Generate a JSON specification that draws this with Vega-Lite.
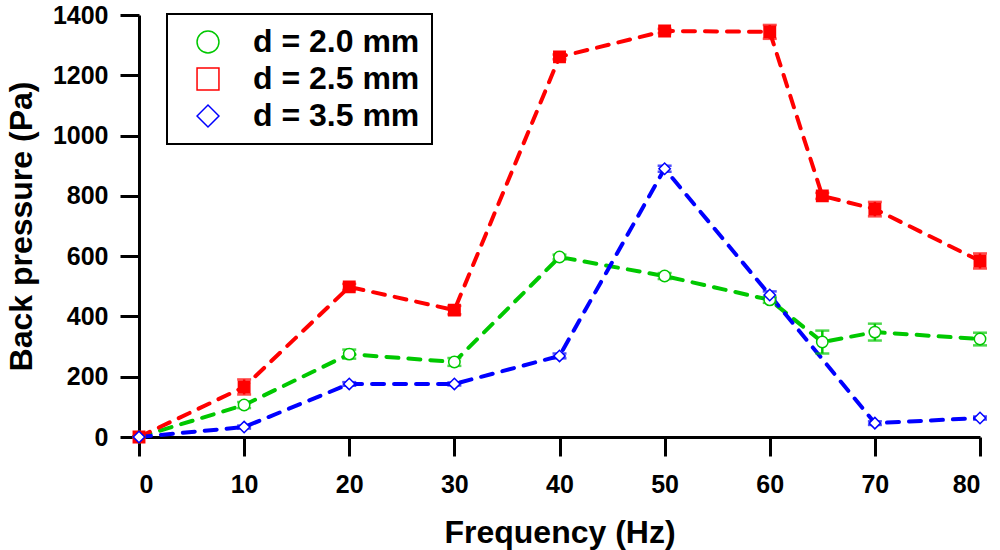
{
  "$schema": "https://vega.github.io/schema/vega-lite/v6.json",
  "width": 841,
  "height": 422,
  "autosize": {"type": "none"},
  "padding": {"left": 139, "top": 15, "right": 20, "bottom": 113},
  "config": {
    "background": "white",
    "view": {"stroke": null},
    "font": "Liberation Sans",
    "axis": {
      "grid": false,
      "domainColor": "black",
      "domainWidth": 3,
      "tickColor": "black",
      "tickWidth": 3,
      "tickSize": 19,
      "labelFontSize": 25,
      "labelFontWeight": "bold",
      "labelColor": "black",
      "titleFontSize": 32,
      "titleFontWeight": "bold",
      "titleColor": "black"
    },
    "legend": {
      "orient": "none",
      "legendX": 28,
      "legendY": -1,
      "strokeColor": "black",
      "strokeWidth": 2,
      "fillColor": "white",
      "padding": 12,
      "symbolSize": 480,
      "symbolStrokeWidth": 1.5,
      "symbolOffset": 13,
      "labelOffset": 29,
      "labelFontSize": 32,
      "labelFontWeight": "bold",
      "labelColor": "black",
      "labelLimit": 400,
      "rowPadding": 5
    }
  },
  "data": {
    "values": [
      {"f": 0, "d": "d = 2.0 mm", "p": 0, "e": 0},
      {"f": 10, "d": "d = 2.0 mm", "p": 106, "e": 10},
      {"f": 20, "d": "d = 2.0 mm", "p": 275, "e": 15},
      {"f": 30, "d": "d = 2.0 mm", "p": 249, "e": 13},
      {"f": 40, "d": "d = 2.0 mm", "p": 597, "e": 8},
      {"f": 50, "d": "d = 2.0 mm", "p": 534, "e": 10},
      {"f": 60, "d": "d = 2.0 mm", "p": 455, "e": 10},
      {"f": 65, "d": "d = 2.0 mm", "p": 315, "e": 38},
      {"f": 70, "d": "d = 2.0 mm", "p": 348, "e": 28},
      {"f": 80, "d": "d = 2.0 mm", "p": 325, "e": 21},
      {"f": 0, "d": "d = 2.5 mm", "p": 0, "e": 0},
      {"f": 10, "d": "d = 2.5 mm", "p": 166, "e": 25},
      {"f": 20, "d": "d = 2.5 mm", "p": 498, "e": 10},
      {"f": 30, "d": "d = 2.5 mm", "p": 421, "e": 14},
      {"f": 40, "d": "d = 2.5 mm", "p": 1261, "e": 8},
      {"f": 50, "d": "d = 2.5 mm", "p": 1347, "e": 7},
      {"f": 60, "d": "d = 2.5 mm", "p": 1344, "e": 23},
      {"f": 65, "d": "d = 2.5 mm", "p": 800, "e": 10},
      {"f": 70, "d": "d = 2.5 mm", "p": 756, "e": 24},
      {"f": 80, "d": "d = 2.5 mm", "p": 584, "e": 25},
      {"f": 0, "d": "d = 3.5 mm", "p": 0, "e": 0},
      {"f": 10, "d": "d = 3.5 mm", "p": 33, "e": 5},
      {"f": 20, "d": "d = 3.5 mm", "p": 176, "e": 6},
      {"f": 30, "d": "d = 3.5 mm", "p": 176, "e": 5},
      {"f": 40, "d": "d = 3.5 mm", "p": 269, "e": 8},
      {"f": 50, "d": "d = 3.5 mm", "p": 890, "e": 10},
      {"f": 60, "d": "d = 3.5 mm", "p": 471, "e": 12},
      {"f": 70, "d": "d = 3.5 mm", "p": 46, "e": 6},
      {"f": 80, "d": "d = 3.5 mm", "p": 63, "e": 5}
    ]
  },
  "encoding": {
    "x": {
      "field": "f",
      "type": "quantitative",
      "scale": {"domain": [0, 80], "nice": false},
      "axis": {"values": [0, 10, 20, 30, 40, 50, 60, 70, 80], "labelPadding": 16, "titlePadding": 20},
      "title": "Frequency (Hz)"
    },
    "y": {
      "field": "p",
      "type": "quantitative",
      "scale": {"domain": [0, 1400], "nice": false},
      "axis": {"values": [0, 200, 400, 600, 800, 1000, 1200, 1400], "format": "d", "labelPadding": 12, "titlePadding": 14},
      "title": "Back pressure (Pa)"
    }
  },
  "layer": [
    {
      "mark": {"type": "point", "size": 0, "opacity": 0},
      "encoding": {
        "color": {
          "field": "d",
          "type": "nominal",
          "scale": {"domain": ["d = 2.0 mm", "d = 2.5 mm", "d = 3.5 mm"], "range": ["#00c800", "#ff0000", "#0000ff"]},
          "title": null,
          "legend": {
            "encode": {
              "symbols": {
                "fill": {"signal": "datum.value === 'd = 2.5 mm' ? '#ff0000' : '#ffffff'"},
                "stroke": {"signal": "scale('color', datum.value)"},
                "strokeWidth": 1.5,
                "opacity": 1,
                "fillOpacity": 1,
                "strokeOpacity": 1
              }
            }
          }
        },
        "fill": {
          "field": "d",
          "type": "nominal",
          "scale": {"domain": ["d = 2.0 mm", "d = 2.5 mm", "d = 3.5 mm"], "range": ["white", "#ff0000", "white"]},
          "title": null
        },
        "shape": {
          "field": "d",
          "type": "nominal",
          "scale": {"domain": ["d = 2.0 mm", "d = 2.5 mm", "d = 3.5 mm"], "range": ["circle", "square", "diamond"]},
          "title": null
        }
      }
    },
    {
      "mark": {"type": "line", "strokeWidth": 4, "strokeDash": [12, 10], "strokeCap": "round"},
      "encoding": {
        "color": {"field": "d", "type": "nominal", "title": null}
      }
    },
    {
      "mark": {"type": "errorbar", "ticks": {"size": 14, "thickness": 2.5}, "thickness": 2.5},
      "encoding": {
        "yError": {"field": "e"},
        "color": {"field": "d", "type": "nominal", "title": null}
      }
    },
    {
      "mark": {"type": "point", "size": 130, "strokeWidth": 1.5, "opacity": 1},
      "encoding": {
        "color": {"field": "d", "type": "nominal", "title": null},
        "fill": {"field": "d", "type": "nominal", "title": null},
        "shape": {"field": "d", "type": "nominal", "title": null}
      }
    }
  ]
}
